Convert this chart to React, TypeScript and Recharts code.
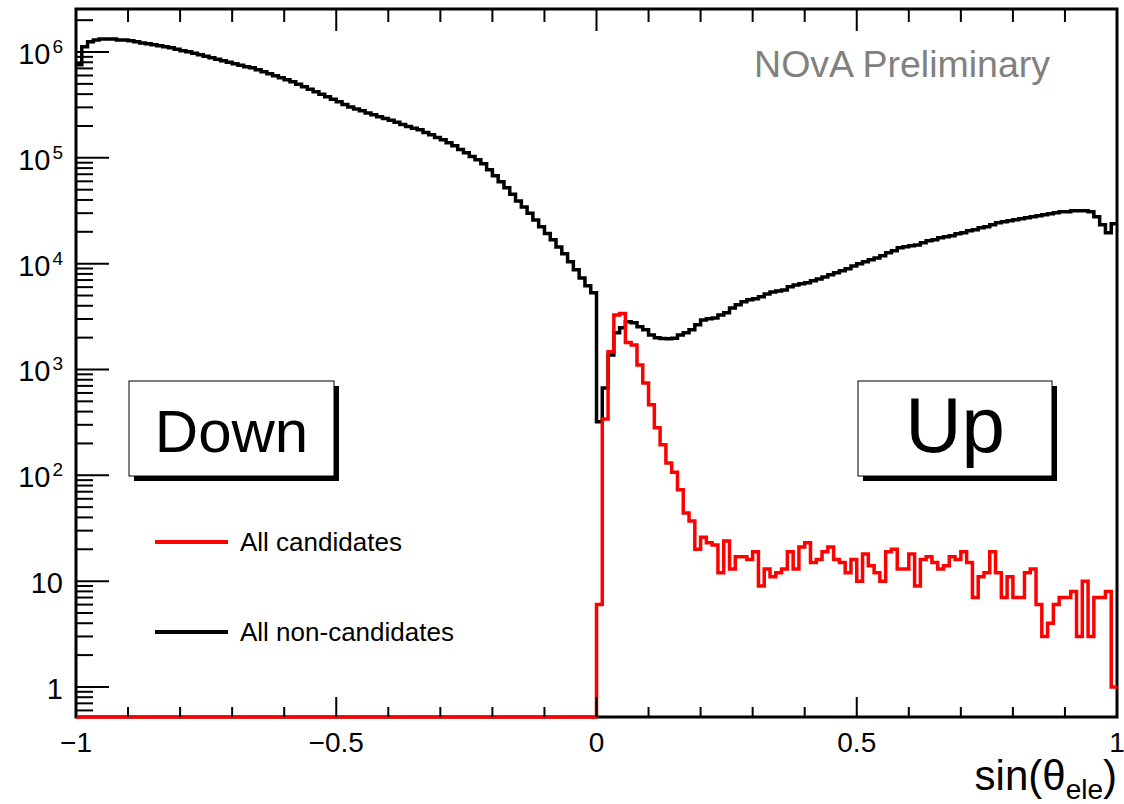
import { ComposedChart, Line, XAxis, YAxis } from "recharts"

const FONT = "'Liberation Sans', Arial, Helvetica, sans-serif"
const W = 1124
const H = 804
const PLOT = { left: 76, top: 9, right: 1117, bottom: 717 }

const X_RANGE: [number, number] = [-1, 1]
const Y_RANGE: [number, number] = [0.52, 2.55e6]
const N_BINS = 180

const X_MAJOR_TICKS = [-1, -0.5, 0, 0.5, 1]
const X_TICK_LABELS = ["\u22121", "\u22120.5", "0", "0.5", "1"]
const X_MINOR_STEP = 0.1

const Y_MAJOR_TICKS = [1, 10, 100, 1000, 10000, 100000, 1000000]
const Y_TICK_BASE = ["1", "10", "10", "10", "10", "10", "10"]
const Y_TICK_EXP = ["", "", "2", "3", "4", "5", "6"]

// all non-candidates, 180 bins from -1 to 1
const nonCandidates = [
  757000, 1120000, 1250000, 1300000, 1330000, 1330000, 1330000, 1300000, 1300000, 1280000,
  1250000, 1220000, 1196000, 1170000, 1144000, 1120000, 1095000, 1060000, 1026000, 1004000,
  972000, 941000, 911000, 882000, 853000, 826000, 799000, 774000, 749000, 725000,
  709000, 679000, 650000, 622000, 596000, 570000, 546000, 523000, 495000, 469000,
  444000, 421000, 398000, 377000, 357000, 338000, 320000, 303000, 290000, 278000,
  266000, 255000, 244000, 236000, 226000, 217000, 207000, 198000, 190000, 184000,
  174000, 165000, 156000, 148000, 139000, 130000, 120000, 111500, 103000, 95700,
  87800, 77000, 67600, 59300, 52100, 45200, 39200, 34400, 29900, 25900,
  22300, 19300, 16800, 14400, 12400, 10400, 8740, 7340, 6170, 5300,
  320, 670, 1370, 2220, 2480, 2820, 2760, 2530, 2370, 2120,
  1990, 1960, 1950, 1970, 2120, 2220, 2370, 2640, 2940, 3010,
  3070, 3280, 3430, 3820, 4080, 4360, 4550, 4650, 4860, 5180,
  5410, 5530, 5650, 6040, 6300, 6450, 6590, 6880, 7180, 7500,
  7840, 8190, 8550, 8930, 9530, 9960, 10400, 10860, 11340, 11850,
  12650, 13210, 14110, 14410, 14730, 15050, 15720, 16430, 16790, 17540,
  17920, 18320, 19130, 19550, 20420, 20870, 21800, 22280, 23270, 24300,
  24840, 25380, 25940, 26510, 27090, 27690, 28300, 28920, 29560, 30210,
  30870, 30870, 31550, 31550, 31550, 30870, 27690, 23270, 19550, 23780,
]

// all candidates, same binning
const candidates = [
  0, 0, 0, 0, 0, 0, 0, 0, 0, 0,
  0, 0, 0, 0, 0, 0, 0, 0, 0, 0,
  0, 0, 0, 0, 0, 0, 0, 0, 0, 0,
  0, 0, 0, 0, 0, 0, 0, 0, 0, 0,
  0, 0, 0, 0, 0, 0, 0, 0, 0, 0,
  0, 0, 0, 0, 0, 0, 0, 0, 0, 0,
  0, 0, 0, 0, 0, 0, 0, 0, 0, 0,
  0, 0, 0, 0, 0, 0, 0, 0, 0, 0,
  0, 0, 0, 0, 0, 0, 0, 0, 0, 0,
  6, 341, 1467, 3280, 3380, 1800, 1700, 1100, 746, 463,
  281, 194, 131, 107, 73, 44, 37, 20, 26, 23,
  22, 12, 24, 13, 17, 17, 16, 19, 9, 13,
  11, 12, 13, 19, 13, 21, 23, 15, 16, 19,
  21, 16, 15, 12, 16, 10, 18, 14, 12, 10,
  19, 20, 13, 13, 18, 9, 16, 17, 15, 13,
  14, 17, 16, 19, 15, 7, 11, 12, 19, 12,
  7, 11, 7, 7, 12, 13, 6, 3, 4, 6,
  7, 7, 8, 3, 10, 3, 7, 7, 8, 1,
]

const SERIES = [
  { key: "nonCand", label: "All non-candidates", color: "#000000", values: nonCandidates },
  { key: "cand", label: "All candidates", color: "#ff0000", values: candidates },
]
const LEGEND_ORDER = ["cand", "nonCand"]

const binWidth = (X_RANGE[1] - X_RANGE[0]) / N_BINS
// empty bins sit on the frame floor, like ROOT draws them on a log axis
const floor = (v: number) => (v > 0 ? v : Y_RANGE[0])

const rows = nonCandidates.map((_, i) => {
  const row: Record<string, number> = { x: X_RANGE[0] + i * binWidth }
  SERIES.forEach((s) => (row[s.key] = floor(s.values[i])))
  return row
})
const lastRow: Record<string, number> = { x: X_RANGE[1] }
SERIES.forEach((s) => (lastRow[s.key] = floor(s.values[N_BINS - 1])))
rows.push(lastRow)

const xTicks: number[] = []
for (let k = 0; k <= Math.round((X_RANGE[1] - X_RANGE[0]) / X_MINOR_STEP); k++) {
  xTicks.push(Math.round((X_RANGE[0] + k * X_MINOR_STEP) * 10) / 10)
}
const yTicks: number[] = []
for (let e = -1; e <= 6; e++) {
  for (let m = 1; m <= 9; m++) {
    const v = m * Math.pow(10, e)
    if (v >= Y_RANGE[0] && v <= Y_RANGE[1]) yTicks.push(v)
  }
}

const xMajorIndex = (v: number) => X_MAJOR_TICKS.findIndex((t) => Math.abs(t - v) < 1e-9)
const yMajorIndex = (v: number) => Y_MAJOR_TICKS.findIndex((t) => Math.abs(v / t - 1) < 1e-9)

function BottomTick(props: any) {
  const { x, payload } = props
  const i = xMajorIndex(payload.value)
  const len = i >= 0 ? 20 : 10
  return (
    <g>
      <line x1={x} x2={x} y1={PLOT.bottom} y2={PLOT.bottom - len} stroke="#000" strokeWidth={2} />
      {i >= 0 && (
        <text x={x} y={752} textAnchor="middle" fontSize={28} fontFamily={FONT} fill="#000">
          {X_TICK_LABELS[i]}
        </text>
      )}
    </g>
  )
}

function TopTick(props: any) {
  const { x, payload } = props
  const len = xMajorIndex(payload.value) >= 0 ? 22 : 13
  return <line x1={x} x2={x} y1={PLOT.top} y2={PLOT.top + len} stroke="#000" strokeWidth={2} />
}

function LeftTick(props: any) {
  const { y, payload } = props
  const i = yMajorIndex(payload.value)
  const len = i >= 0 ? 33 : 17
  return (
    <g>
      <line x1={PLOT.left} x2={PLOT.left + len} y1={y} y2={y} stroke="#000" strokeWidth={2} />
      {i >= 0 && (
        <text x={63} y={y + 12} textAnchor="end" fontSize={29} fontFamily={FONT} fill="#000">
          <tspan>{Y_TICK_BASE[i]}</tspan>
          {Y_TICK_EXP[i] && (
            <tspan dy={-11} dx={2} fontSize={19}>
              {Y_TICK_EXP[i]}
            </tspan>
          )}
        </text>
      )}
    </g>
  )
}

function RightTick(props: any) {
  const { y, payload } = props
  const len = yMajorIndex(payload.value) >= 0 ? 31 : 15
  return <line x1={PLOT.right} x2={PLOT.right - len} y1={y} y2={y} stroke="#000" strokeWidth={2} />
}

function LabelBox({ x, y, w, h, text, size }: { x: number; y: number; w: number; h: number; text: string; size: number }) {
  return (
    <g>
      <rect x={x + 5} y={y + 5} width={w} height={h} fill="#000" />
      <rect x={x} y={y} width={w} height={h} fill="#fff" stroke="#000" strokeWidth={1} />
      <text x={x + w / 2} y={y + 71} textAnchor="middle" fontSize={size} fontFamily={FONT} fill="#000">
        {text}
      </text>
    </g>
  )
}

// frame drawn underneath the chart so the histograms sit on top of it
function Frame() {
  return (
    <svg width={W} height={H} style={{ position: "absolute", left: 0, top: 0 }}>
      <rect
        x={PLOT.left}
        y={PLOT.top}
        width={PLOT.right - PLOT.left}
        height={PLOT.bottom - PLOT.top}
        fill="none"
        stroke="#000"
        strokeWidth={3}
      />
    </svg>
  )
}

function Overlay() {
  const legend = LEGEND_ORDER.map((k) => SERIES.find((s) => s.key === k)!)
  return (
    <svg
      width={W}
      height={H}
      style={{ position: "absolute", left: 0, top: 0, pointerEvents: "none" }}
    >
      <text x={1050} y={77} textAnchor="end" fontSize={37.5} fontFamily={FONT} fill="#808080">
        NOvA Preliminary
      </text>
      <LabelBox x={129} y={381} w={205} h={95} text="Down" size={60} />
      <LabelBox x={858} y={381} w={194} h={95} text="Up" size={78} />
      {legend.map((s, i) => (
        <g key={s.key}>
          <line x1={155} x2={228} y1={542 + i * 90} y2={542 + i * 90} stroke={s.color} strokeWidth={4} />
          <text x={240} y={551 + i * 90} fontSize={26} fontFamily={FONT} fill="#000">
            {s.label}
          </text>
        </g>
      ))}
      <text x={PLOT.right} y={790} textAnchor="end" fontSize={42} fontFamily={FONT} fill="#000">
        <tspan>sin(θ</tspan>
        <tspan fontSize={28} dy={9}>ele</tspan>
        <tspan dy={-9}>)</tspan>
      </text>
    </svg>
  )
}

// axes need a non-zero size to be drawn, so each takes 1px of the margin
const AXIS_PX = 1

export default function App() {
  return (
    <div style={{ position: "absolute", left: 0, top: 0, width: W, height: H, background: "#fff" }}>
      <Frame />
      <ComposedChart
        width={W}
        height={H}
        data={rows}
        margin={{
          top: PLOT.top - AXIS_PX,
          right: W - PLOT.right - AXIS_PX,
          bottom: H - PLOT.bottom - AXIS_PX,
          left: PLOT.left - AXIS_PX,
        }}
      >
        <XAxis
          xAxisId="b"
          type="number"
          dataKey="x"
          domain={X_RANGE}
          ticks={xTicks}
          interval={0}
          height={AXIS_PX}
          tickSize={0}
          tickMargin={0}
          tickLine={false}
          axisLine={false}
          tick={(p: any) => <BottomTick {...p} />}
        />
        <XAxis
          xAxisId="t"
          orientation="top"
          type="number"
          dataKey="x"
          domain={X_RANGE}
          ticks={xTicks}
          interval={0}
          height={AXIS_PX}
          tickSize={0}
          tickMargin={0}
          tickLine={false}
          axisLine={false}
          tick={(p: any) => <TopTick {...p} />}
        />
        <YAxis
          yAxisId="l"
          scale="log"
          type="number"
          domain={Y_RANGE}
          ticks={yTicks}
          interval={0}
          width={AXIS_PX}
          tickSize={0}
          tickMargin={0}
          tickLine={false}
          axisLine={false}
          tick={(p: any) => <LeftTick {...p} />}
        />
        <YAxis
          yAxisId="r"
          orientation="right"
          scale="log"
          type="number"
          domain={Y_RANGE}
          ticks={yTicks}
          interval={0}
          width={AXIS_PX}
          tickSize={0}
          tickMargin={0}
          tickLine={false}
          axisLine={false}
          tick={(p: any) => <RightTick {...p} />}
        />
        {SERIES.map((s) => (
          <Line
            key={s.key}
            xAxisId="b"
            yAxisId="l"
            dataKey={s.key}
            name={s.label}
            type="stepAfter"
            stroke={s.color}
            strokeWidth={3.5}
            strokeLinejoin="miter"
            dot={false}
            activeDot={false}
            isAnimationActive={false}
          />
        ))}
      </ComposedChart>
      <Overlay />
    </div>
  )
}
